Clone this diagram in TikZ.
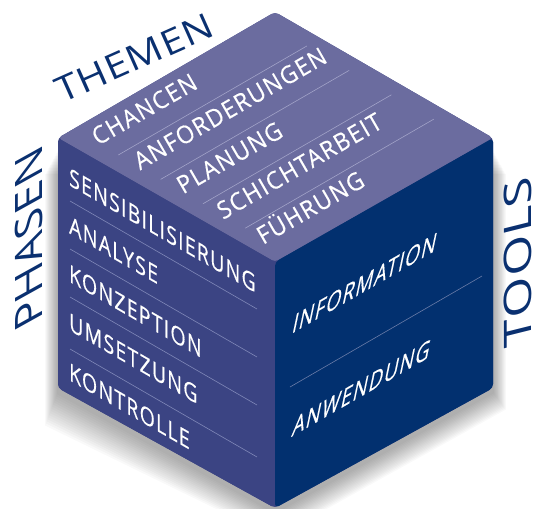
\documentclass[tikz,border=0pt]{standalone}
\usepackage{fontspec}
\setmainfont{Open Sans}
\newfontfamily\cubefont[LetterSpace=6,FakeBold=0.4]{Open Sans}
\newfontfamily\labfont[LetterSpace=2]{Open Sans}
\definecolor{topc}{HTML}{6B6C9F}
\definecolor{leftc}{HTML}{3B4483}
\definecolor{rightc}{HTML}{02306F}
\definecolor{labc}{HTML}{0A3070}
\definecolor{seplft}{HTML}{8088B8}
\definecolor{septop}{HTML}{A2A3C8}
\definecolor{seprgt}{HTML}{6A7CA8}
\tikzset{
  lfttxt/.style={anchor=base west, inner sep=0pt, text=white,
    font=\cubefont\fontsize{24.5}{25}\selectfont, cm={0.80,-0.462,0,1,(0,0)}},
  toptxt/.style={anchor=base west, inner sep=0pt, text=white,
    font=\cubefont\fontsize{24.5}{25}\selectfont, cm={0.815,0.47,-0.5,0.866,(0,0)}},
  rgttxt/.style={anchor=base west, inner sep=0pt, text=white,
    font=\cubefont\fontsize{27}{28}\selectfont, cm={0.72,0.416,0.21,1,(0,0)}},
  labtxt/.style={anchor=base west, inner sep=0pt, text=labc},
  sepl/.style={draw=seplft, line width=0.6pt},
  sept/.style={draw=septop, line width=0.6pt},
  sepr/.style={draw=seprgt, line width=0.6pt},
  face/.style={rounded corners=4pt}
}
\begin{document}
\begin{tikzpicture}[x=1pt,y=-1pt]
\useasboundingbox (0,0) rectangle (536,509);
% shadow
\foreach \k in {1,...,16}{
  \fill[black, opacity=0.022] (58-\k*0.8,150+\k*1.5) -- (58-\k*0.8,392+\k*2.1) -- (275,512+\k*1.6)
     -- (493+\k*0.8,392+\k*1.1) -- (493+\k*0.8,150+\k*1.5) -- cycle;
}
% cube faces
\fill[leftc, face] (58,138) -- (275,12) -- (493,138) -- (493,388) -- (275,508) -- (58,388) -- cycle;
\fill[topc, face] (58,138) -- (275,12) -- (493,138) -- (275,262) -- cycle;
\fill[leftc, face] (58,138) -- (275,262) -- (275,508) -- (58,388) -- cycle;
\fill[rightc, face] (275,262) -- (493,138) -- (493,388) -- (275,508) -- cycle;
% separators
\foreach \y [count=\i] in {201,249,297,349}{
  \coordinate (la\i) at (70,\y);
  \coordinate (lb\i) at (257,\y+108);
  \draw[sepl] (la\i) -- (lb\i);
}
\foreach \k in {0,1,2,3}{
  \coordinate (ta\k) at (118.3+42.3*\k,155+24.4*\k);
  \coordinate (tb\k) at (306.8+42.3*\k,46+24.4*\k);
  \draw[sept] (ta\k) -- (tb\k);
}
\coordinate (ra) at (290,387);
\coordinate (rb) at (482,276);
\draw[sepr] (ra) -- (rb);
% left face texts
\node[lfttxt] (p1) at (69,185) {SENSIBILISIERUNG};
\node[lfttxt] (p2) at (69,233) {ANALYSE};
\node[lfttxt] (p3) at (69,281.5) {KONZEPTION};
\node[lfttxt] (p4) at (69,330) {UMSETZUNG};
\node[lfttxt] (p5) at (69,380) {KONTROLLE};
% top face texts
\node[toptxt] (t1) at (98,146) {CHANCEN};
\node[toptxt] (t2) at (140,170.5) {ANFORDERUNGEN};
\node[toptxt] (t3) at (183,194.5) {PLANUNG};
\node[toptxt] (t4) at (223,220) {SCHICHTARBEIT};
\node[toptxt] (t5) at (263,245) {FÜHRUNG};
% right face texts
\node[rgttxt] (w1) at (291,334) {INFORMATION};
\node[rgttxt] (w2) at (291,437) {ANWENDUNG};
% outer labels
\node[labtxt, font=\labfont\fontsize{35}{36}\selectfont, cm={1.06,0.472,-0.407,0.914,(0,0)}] (themen) at (62,104) {THEMEN};
\node[labtxt, font=\labfont\fontsize{42}{42}\selectfont, cm={0,1.07,-0.9,-0.5,(0,0)}] (phasen) at (42,320) {PHASEN};
\node[labtxt, font=\labfont\fontsize{38}{38}\selectfont, cm={0,1.36,-1,-0.25,(0,0)}] (tools) at (531,343) {TOOLS};
\end{tikzpicture}
\end{document}
